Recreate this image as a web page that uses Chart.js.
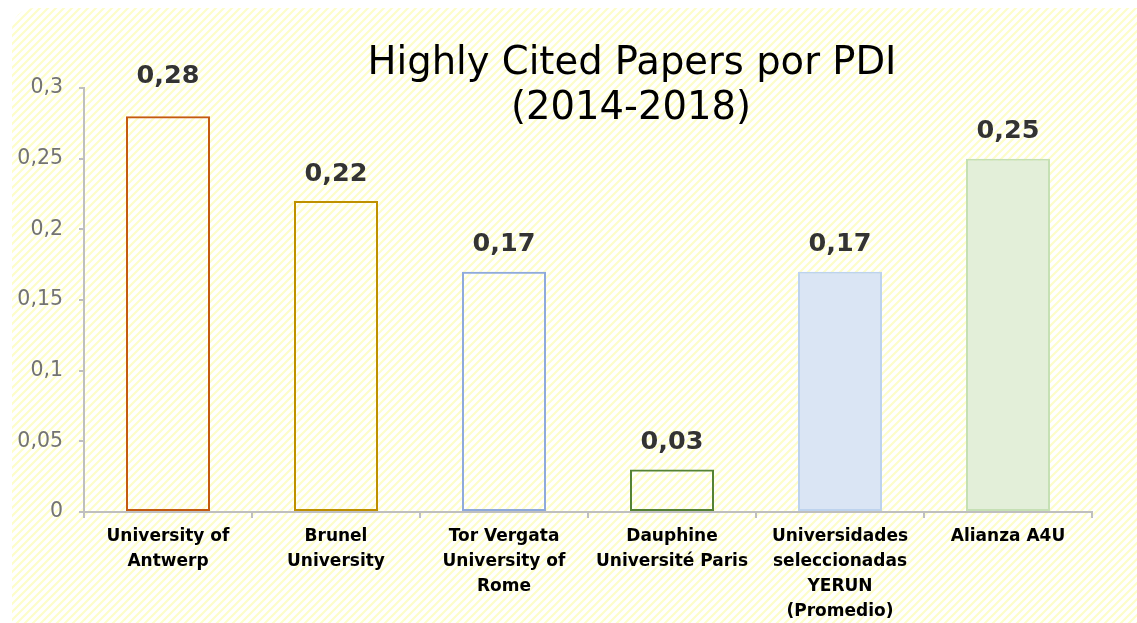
<!DOCTYPE html>
<html>
<head>
<meta charset="utf-8">
<script src="https://cdn.jsdelivr.net/npm/chart.js@4.4.0/dist/chart.umd.min.js"></script>
<style>
  html, body { margin: 0; padding: 0; background: #ffffff; }
  #wrap { width: 1137px; height: 623px; }
</style>
</head>
<body>
<div id="wrap"><canvas id="chart" width="1137" height="623"></canvas></div>
<script>
// data
const categories = [
  ['University of', 'Antwerp'],
  ['Brunel', 'University'],
  ['Tor Vergata', 'University of', 'Rome'],
  ['Dauphine', 'Université Paris'],
  ['Universidades', 'seleccionadas', 'YERUN', '(Promedio)'],
  ['Alianza A4U']
];
const values = [0.28, 0.22, 0.17, 0.03, 0.17, 0.25];
const yTicks = [0, 0.05, 0.1, 0.15, 0.2, 0.25, 0.3];
const yTickLabels = ['0', '0,05', '0,1', '0,15', '0,2', '0,25', '0,3'];
const titleLines = ['Highly Cited Papers por PDI', '(2014-2018)'];

// styles
const fillColors = ['rgba(0,0,0,0)', 'rgba(0,0,0,0)', 'rgba(0,0,0,0)', 'rgba(0,0,0,0)', '#dae5f4', '#e3efd9'];
const borderColors = ['#c55a11', '#bf9000', '#8faadc', '#548235', '#bdd3ee', '#c5e0b4'];
const labelLift = [40, 27, 27, 27, 27, 27];

function fmt(v) {
  return String(v).replace('.', ',');
}

function hatchPattern(ctx) {
  const s = 8;
  const c = document.createElement('canvas');
  c.width = s; c.height = s;
  const p = c.getContext('2d');
  p.fillStyle = '#ffffff';
  p.fillRect(0, 0, s, s);
  p.strokeStyle = '#fdfdc9';
  p.lineWidth = 2.2;
  p.beginPath();
  p.moveTo(-1, s + 1); p.lineTo(s + 1, -1);
  p.moveTo(-1, 1); p.lineTo(1, -1);
  p.moveTo(s - 1, s + 1); p.lineTo(s + 1, s - 1);
  p.stroke();
  return ctx.createPattern(c, 'repeat');
}

const backdrop = {
  id: 'backdrop',
  beforeDraw(chart) {
    const ctx = chart.ctx;
    ctx.save();
    ctx.fillStyle = '#ffffff';
    ctx.fillRect(0, 0, chart.width, chart.height);
    ctx.fillStyle = hatchPattern(ctx);
    ctx.beginPath();
    ctx.roundRect(12, 8, chart.width + 30, chart.height + 30, 22);
    ctx.fill();
    ctx.restore();
  }
};

const titleText = {
  id: 'titleText',
  afterDraw(chart) {
    const ctx = chart.ctx;
    ctx.save();
    ctx.fillStyle = '#000000';
    ctx.font = '38.5px "DejaVu Sans"';
    ctx.textAlign = 'center';
    ctx.textBaseline = 'middle';
    ctx.fillText(titleLines[0], 632, 64);
    ctx.fillText(titleLines[1], 631, 109);
    ctx.restore();
  }
};

const valueLabels = {
  id: 'valueLabels',
  afterDatasetsDraw(chart) {
    const ctx = chart.ctx;
    const meta = chart.getDatasetMeta(0);
    ctx.save();
    ctx.fillStyle = '#333333';
    ctx.font = 'bold 25.5px "DejaVu Sans"';
    ctx.textAlign = 'center';
    ctx.textBaseline = 'middle';
    meta.data.forEach((bar, i) => {
      ctx.fillText(fmt(values[i]), bar.x, bar.y - labelLift[i]);
    });
    ctx.restore();
  }
};

new Chart(document.getElementById('chart'), {
  type: 'bar',
  data: {
    labels: categories,
    datasets: [{
      data: values,
      backgroundColor: fillColors,
      borderColor: borderColors,
      borderWidth: 2,
      borderSkipped: false,
      categoryPercentage: 1,
      barPercentage: 0.5
    }]
  },
  options: {
    responsive: false,
    animation: false,
    layout: { padding: { left: 0, right: 45, top: 88, bottom: 0 } },
    plugins: {
      legend: { display: false },
      title: { display: false },
      tooltip: { enabled: false }
    },
    scales: {
      x: {
        grid: {
          display: true,
          drawOnChartArea: false,
          offset: true,
          tickLength: 6,
          color: '#bfbfbf',
          lineWidth: 2
        },
        border: { display: true, color: '#bfbfbf', width: 2 },
        ticks: {
          color: '#000000',
          font: { family: 'DejaVu Sans', size: 17, weight: 'bold', lineHeight: 1.47 },
          padding: 6,
          maxRotation: 0,
          autoSkip: false
        },
        afterFit(scale) { scale.height = 111; }
      },
      y: {
        min: 0,
        max: 0.3,
        afterBuildTicks(scale) {
          scale.ticks = yTicks.map(v => ({ value: v }));
        },
        grid: {
          display: true,
          drawOnChartArea: false,
          tickLength: 5,
          color: '#bfbfbf',
          lineWidth: 2
        },
        border: { display: true, color: '#bfbfbf', width: 2 },
        ticks: {
          color: '#737373',
          font: { family: 'DejaVu Sans', size: 20.5 },
          padding: 16,
          callback: (v, i) => yTickLabels[i]
        },
        afterFit(scale) { scale.width = 84; }
      }
    }
  },
  plugins: [backdrop, valueLabels, titleText]
});
</script>
</body>
</html>
